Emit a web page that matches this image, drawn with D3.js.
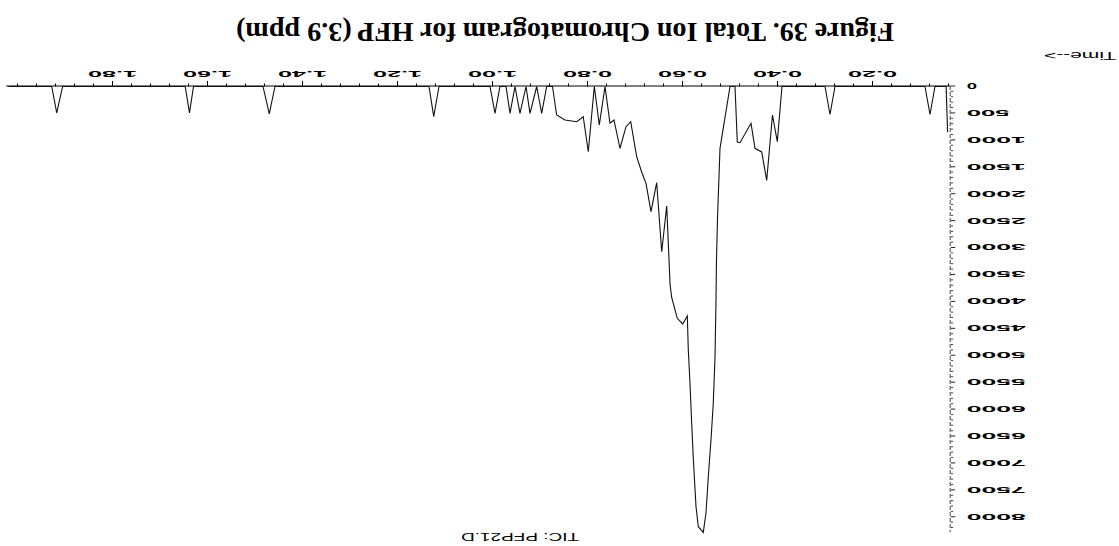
<!DOCTYPE html>
<html>
<head>
<meta charset="utf-8">
<script src="https://cdn.jsdelivr.net/npm/d3@7"></script>
<style>
  html, body { margin: 0; padding: 0; background: #fff; }
  svg { display: block; }
</style>
</head>
<body>
<svg id="chart" width="1119" height="546"></svg>
<script>
// ---- data (time in minutes, total ion abundance) ----
const times = [
  0.043, 0.046, 0.0695, 0.080, 0.0905, 0.280, 0.2905, 0.301,
  0.3916, 0.4015, 0.4116, 0.4238, 0.4343, 0.4484, 0.4568, 0.480, 0.4857, 0.4905,
  0.501, 0.5221, 0.5242, 0.527, 0.5295, 0.5305, 0.5326, 0.5362, 0.5411, 0.5467, 0.5516,
  0.5573, 0.5678, 0.5726, 0.5785, 0.5817, 0.5853, 0.5888, 0.5909, 0.6006, 0.612,
  0.6238, 0.6274, 0.6288, 0.6343, 0.6448, 0.6554, 0.6674, 0.6779, 0.687, 0.6975,
  0.7101, 0.720, 0.7326, 0.7453, 0.7537, 0.7642, 0.7762, 0.7867, 0.7994, 0.810,
  0.8238, 0.8484, 0.866, 0.8747, 0.887, 0.8975, 0.908, 0.9221, 0.9305, 0.9432,
  0.9537, 0.9642, 0.9726, 0.9853, 0.9958, 1.0063, 1.1137, 1.1248, 1.1347,
  1.459, 1.471, 1.4842, 1.6305, 1.639, 1.648, 1.906, 1.9185, 1.929, 2.020
];
const abundance = [
  850, 0, 0, 520, 0, 0, 520, 0,
  0, 1025, 529, 1745, 1216, 1148, 684, 1044, 1030, 0,
  0, 1148, 1675, 2349, 3222, 3965, 5018, 5877, 6565, 7246, 7920,
  8280, 8174, 7803, 6875, 6254, 5512, 4893, 4262, 4410, 4305,
  3918, 3655, 3346, 2219, 3068, 1786, 2325, 1798, 1588, 1304,
  654, 747, 1148, 622, 683, 0, 715, 0, 1211, 561,
  654, 622, 529, 0, 0, 498, 0, 498, 0, 498,
  0, 498, 0, 0, 498, 0, 0, 560, 0,
  0, 510, 0, 0, 490, 0, 0, 490, 0, 0
];
const xTickValues = [0.2, 0.4, 0.6, 0.8, 1.0, 1.2, 1.4, 1.6, 1.8];
const xTickLabels = ["0.20", "0.40", "0.60", "0.80", "1.00", "1.20", "1.40", "1.60", "1.80"];
const yTickValues = [0, 500, 1000, 1500, 2000, 2500, 3000, 3500, 4000,
                     4500, 5000, 5500, 6000, 6500, 7000, 7500, 8000];
const yTickLabels = ["0", "500", "1000", "1500", "2000", "2500", "3000", "3500", "4000",
                     "4500", "5000", "5500", "6000", "6500", "7000", "7500", "8000"];
const titleText = "Figure 39. Total Ion Chromatogram for HFP (3.9 ppm)";
const ticLabel = "TIC: PFP21.D";
const timeLabel = "Time-->";

// ---- drawing ----
const W = 1119, H = 546;
const svg = d3.select("#chart");
// The reference page is scanned upside down: draw normally, then rotate 180°.
const g = svg.append("g").attr("transform", `rotate(180 ${W / 2} ${H / 2})`);

const x = d3.scaleLinear().domain([0.0364, 2.0238]).range([168.3, 1112.3]);
const y = d3.scaleLinear().domain([0, 8290]).range([459.5, 13.1]);

const labelFont = "'Liberation Sans', Arial, sans-serif";

// minor x ticks
const xMinor = d3.range(1, 51).map(i => i * 0.04).filter(v => v <= 2.02 && v >= 0.0364);
g.append("g")
  .attr("transform", `translate(0,${y(0)})`)
  .call(d3.axisBottom(x).tickValues(xMinor).tickSize(3).tickSizeOuter(0).tickFormat(""))
  .call(a => a.select(".domain").remove())
  .call(a => a.selectAll("line").attr("stroke", "#000").attr("stroke-width", 1));

// major x axis
const xAxis = g.append("g")
  .attr("transform", `translate(0,${y(0)})`)
  .call(d3.axisBottom(x).tickValues(xTickValues).tickSize(5.5).tickSizeOuter(0).tickPadding(3.3)
        .tickFormat((d, i) => xTickLabels[i]));
xAxis.select(".domain").attr("stroke", "#000").attr("stroke-width", 1.2);
xAxis.selectAll("line").attr("stroke", "#000").attr("stroke-width", 1);
xAxis.selectAll("text")
  .attr("font-family", labelFont).attr("font-weight", "bold").attr("font-size", 9.5)
  .attr("fill", "#000")
  .attr("textLength", 49).attr("lengthAdjust", "spacingAndGlyphs");

// minor y ticks
const yMinor = d3.range(1, 83).map(i => i * 100).filter(v => v % 500 !== 0);
g.append("g")
  .attr("transform", `translate(${x.range()[0]},0)`)
  .call(d3.axisLeft(y).tickValues(yMinor).tickSize(2.5).tickSizeOuter(0).tickFormat(""))
  .call(a => a.select(".domain").remove())
  .call(a => a.selectAll("line").attr("stroke", "#333").attr("stroke-width", 0.9));

// major y axis
const yAxis = g.append("g")
  .attr("transform", `translate(${x.range()[0]},0)`)
  .call(d3.axisLeft(y).tickValues(yTickValues).tickSize(4.5).tickSizeOuter(0).tickPadding(11.5)
        .tickFormat((d, i) => yTickLabels[i]));
yAxis.select(".domain").attr("stroke", "#444").attr("stroke-width", 1).attr("stroke-dasharray", "4,2");
yAxis.selectAll("line").attr("stroke", "#222").attr("stroke-width", 1);
yAxis.selectAll("text")
  .attr("font-family", labelFont).attr("font-weight", "bold").attr("font-size", 9.5)
  .attr("fill", "#000")
  .attr("textLength", (d, i) => 16.3 * yTickLabels[i].length - 6)
  .attr("lengthAdjust", "spacingAndGlyphs");

// chromatogram trace
const series = times.map((t, i) => ({ t, v: abundance[i] }));
g.append("path")
  .datum(series)
  .attr("fill", "none")
  .attr("stroke", "#111")
  .attr("stroke-width", 1.1)
  .attr("stroke-linejoin", "miter")
  .attr("d", d3.line().x(d => x(d.t)).y(d => y(d.v)));

// texts
g.append("text")
  .attr("x", 554).attr("y", 523)
  .attr("text-anchor", "middle")
  .attr("font-family", "'Liberation Serif', 'Times New Roman', serif")
  .attr("font-weight", "bold").attr("font-size", 28)
  .attr("textLength", 658).attr("lengthAdjust", "spacingAndGlyphs")
  .text(titleText);

g.append("text")
  .attr("x", 599).attr("y", 13)
  .attr("text-anchor", "middle")
  .attr("font-family", labelFont).attr("font-size", 11.5)
  .attr("textLength", 118).attr("lengthAdjust", "spacingAndGlyphs")
  .text(ticLabel);

g.append("text")
  .attr("x", 3).attr("y", 494.5)
  .attr("font-family", labelFont).attr("font-size", 10)
  .attr("textLength", 72).attr("lengthAdjust", "spacingAndGlyphs")
  .text(timeLabel);
</script>
</body>
</html>
